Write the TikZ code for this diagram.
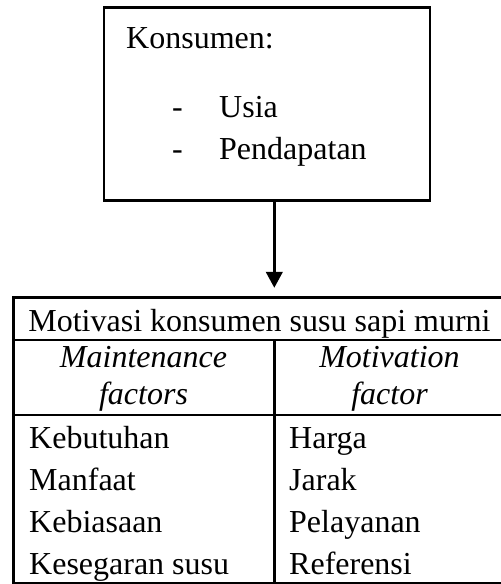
\documentclass[tikz,border=0pt]{standalone}
\usepackage{fontspec}
\setmainfont{Liberation Serif}
\usetikzlibrary{arrows.meta}

\tikzset{
	teks/.style={inner sep=0pt, anchor=base west},
	tengah/.style={inner sep=0pt, anchor=base},
	kotak/.style={draw, inner sep=0pt},
}

\begin{document}
\begin{tikzpicture}[x=0.375pt, y=-0.375pt, line width=0.9pt,
		font=\fontsize{12pt}{14pt}\selectfont]
		\useasboundingbox (0,0) rectangle (501,584);

		% kotak konsumen
		\node[kotak, minimum width=122.25pt, minimum height=72.4pt] (konsumen) at (267,104) {};
		\node[teks] (judulK) at (125,49)  {Konsumen:};
		\node[teks] (dashA)  at (171,118) {-};
		\node[teks] (usia)   at (218,118) {Usia};
		\node[teks] (dashB)  at (171,160) {-};
		\node[teks] (dapat)  at (218,160) {Pendapatan};

		% tabel motivasi
		\node[kotak, minimum width=184.5pt, minimum height=107.25pt] (tabel) at (259.5,440.5) {};
		\coordinate (garisA) at (0,340);
		\coordinate (garisB) at (0,415);
		\coordinate (tengah) at (274.3,340);

		\draw (tabel.west |- garisA) -- (tabel.east |- garisA);
		\draw (tabel.west |- garisB) -- (tabel.east |- garisB);
		\draw (tengah) -- (tabel.south -| tengah);

		\node[tengah] (judulT) at (259.5,331) {Motivasi konsumen susu sapi murni};
		\node[tengah] (mainA)  at (143.5,367.7) {\itshape Maintenance};
		\node[tengah] (mainB)  at (143.5,404.3) {\itshape factors};
		\node[tengah] (motA)   at (389.5,367.7) {\itshape Motivation};
		\node[tengah] (motB)   at (389.5,404.3) {\itshape factor};

		\foreach \kiri/\kanan [count=\i] in {Kebutuhan/Harga, Manfaat/Jarak,
			Kebiasaan/Pelayanan, Kesegaran susu/Referensi}
		{
			\node[teks] (kiri\i)  at (28,406.5+42*\i)  {\kiri};
			\node[teks] (kanan\i) at (288,406.5+42*\i) {\kanan};
		}

		\draw[-{Triangle[length=6pt,width=6.25pt]}, shorten >=3.2pt]
			(konsumen.south -| tengah) -- (tabel.north -| tengah);
	\end{tikzpicture}
\end{document}
